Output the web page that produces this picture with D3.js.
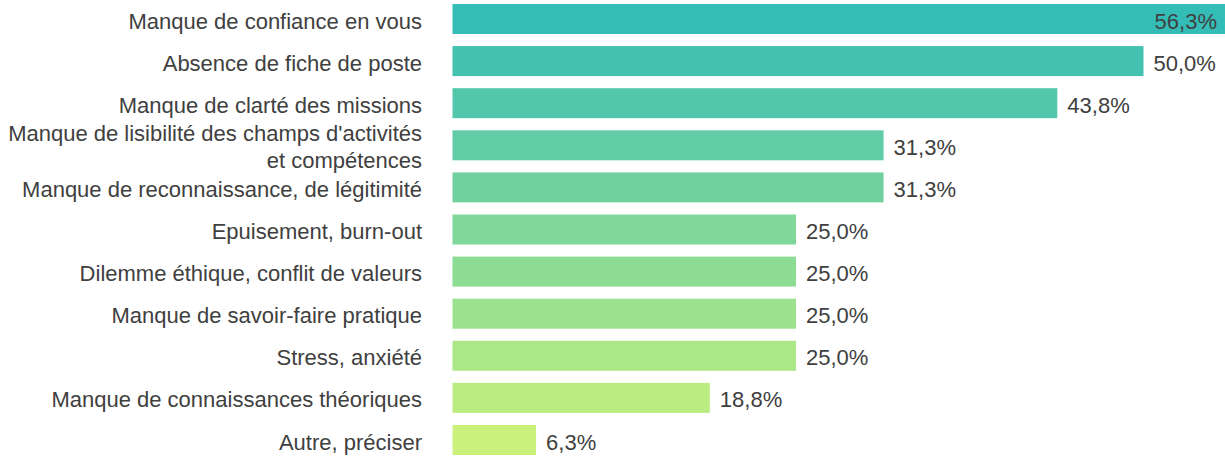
<!DOCTYPE html>
<html><head><meta charset="utf-8">
<script src="https://cdn.jsdelivr.net/npm/d3@7"></script>
<style>body{margin:0;background:#fff}svg{display:block}</style>
</head><body><svg id="c" width="1225" height="457"></svg>
<script>
const categories = [
  "Manque de confiance en vous",
  "Absence de fiche de poste",
  "Manque de clarté des missions",
  "Manque de lisibilité des champs d'activités|et compétences",
  "Manque de reconnaissance, de légitimité",
  "Epuisement, burn-out",
  "Dilemme éthique, conflit de valeurs",
  "Manque de savoir-faire pratique",
  "Stress, anxiété",
  "Manque de connaissances théoriques",
  "Autre, préciser"
];
const values = [56.3, 50.0, 43.8, 31.3, 31.3, 25.0, 25.0, 25.0, 25.0, 18.8, 6.3];
const valueLabels = ["56,3%","50,0%","43,8%","31,3%","31,3%","25,0%","25,0%","25,0%","25,0%","18,8%","6,3%"];

const svg = d3.select("#c");
const W = 1225;
const barX = 452.5;
const x = d3.scaleLinear().domain([0, 50]).range([448.5, 1143.5]);
const step = 42.1, p = 12.1 / 42.1;
const r0 = 4 - step * p / 2;
const y = d3.scaleBand().domain(categories).range([r0, r0 + step * categories.length])
  .paddingInner(p).paddingOuter(p / 2);
const color = d3.scaleLinear().domain([0, categories.length - 1])
  .range(["#34bcb7", "#c9f17b"]).interpolate(d3.interpolateRgb);

const FONT = "'Liberation Sans', Arial, Helvetica, sans-serif";
const FS = 22;
const TXT = "#404040";

svg.append("g").selectAll("rect").data(values).join("rect")
  .attr("x", barX)
  .attr("y", (d, i) => y(categories[i]))
  .attr("width", d => Math.min(x(d), W + 10) - barX)
  .attr("height", y.bandwidth())
  .attr("fill", (d, i) => color(i));

svg.append("g").selectAll("text").data(categories).join("text")
  .attr("text-anchor", "end")
  .attr("font-family", FONT)
  .attr("font-size", FS)
  .attr("fill", TXT)
  .each(function(d) {
    const lines = d.split("|");
    const t = d3.select(this);
    const base = y(d) + y.bandwidth() / 2 + 9.5;
    const lh = 27;
    const start = base - (lines.length - 1) * lh / 2;
    lines.forEach((l, k) => {
      t.append("tspan").attr("x", 422).attr("y", start + k * lh).text(l);
    });
  });

const inside = d => x(d) + 10 + 70 > W;
svg.append("g").selectAll("text").data(values).join("text")
  .attr("font-family", FONT)
  .attr("font-size", FS)
  .attr("fill", TXT)
  .attr("y", (d, i) => y(categories[i]) + y.bandwidth() / 2 + 9.5)
  .attr("x", d => inside(d) ? 1217 : x(d) + 10)
  .attr("text-anchor", d => inside(d) ? "end" : "start")
  .text((d, i) => valueLabels[i]);
</script></body></html>
